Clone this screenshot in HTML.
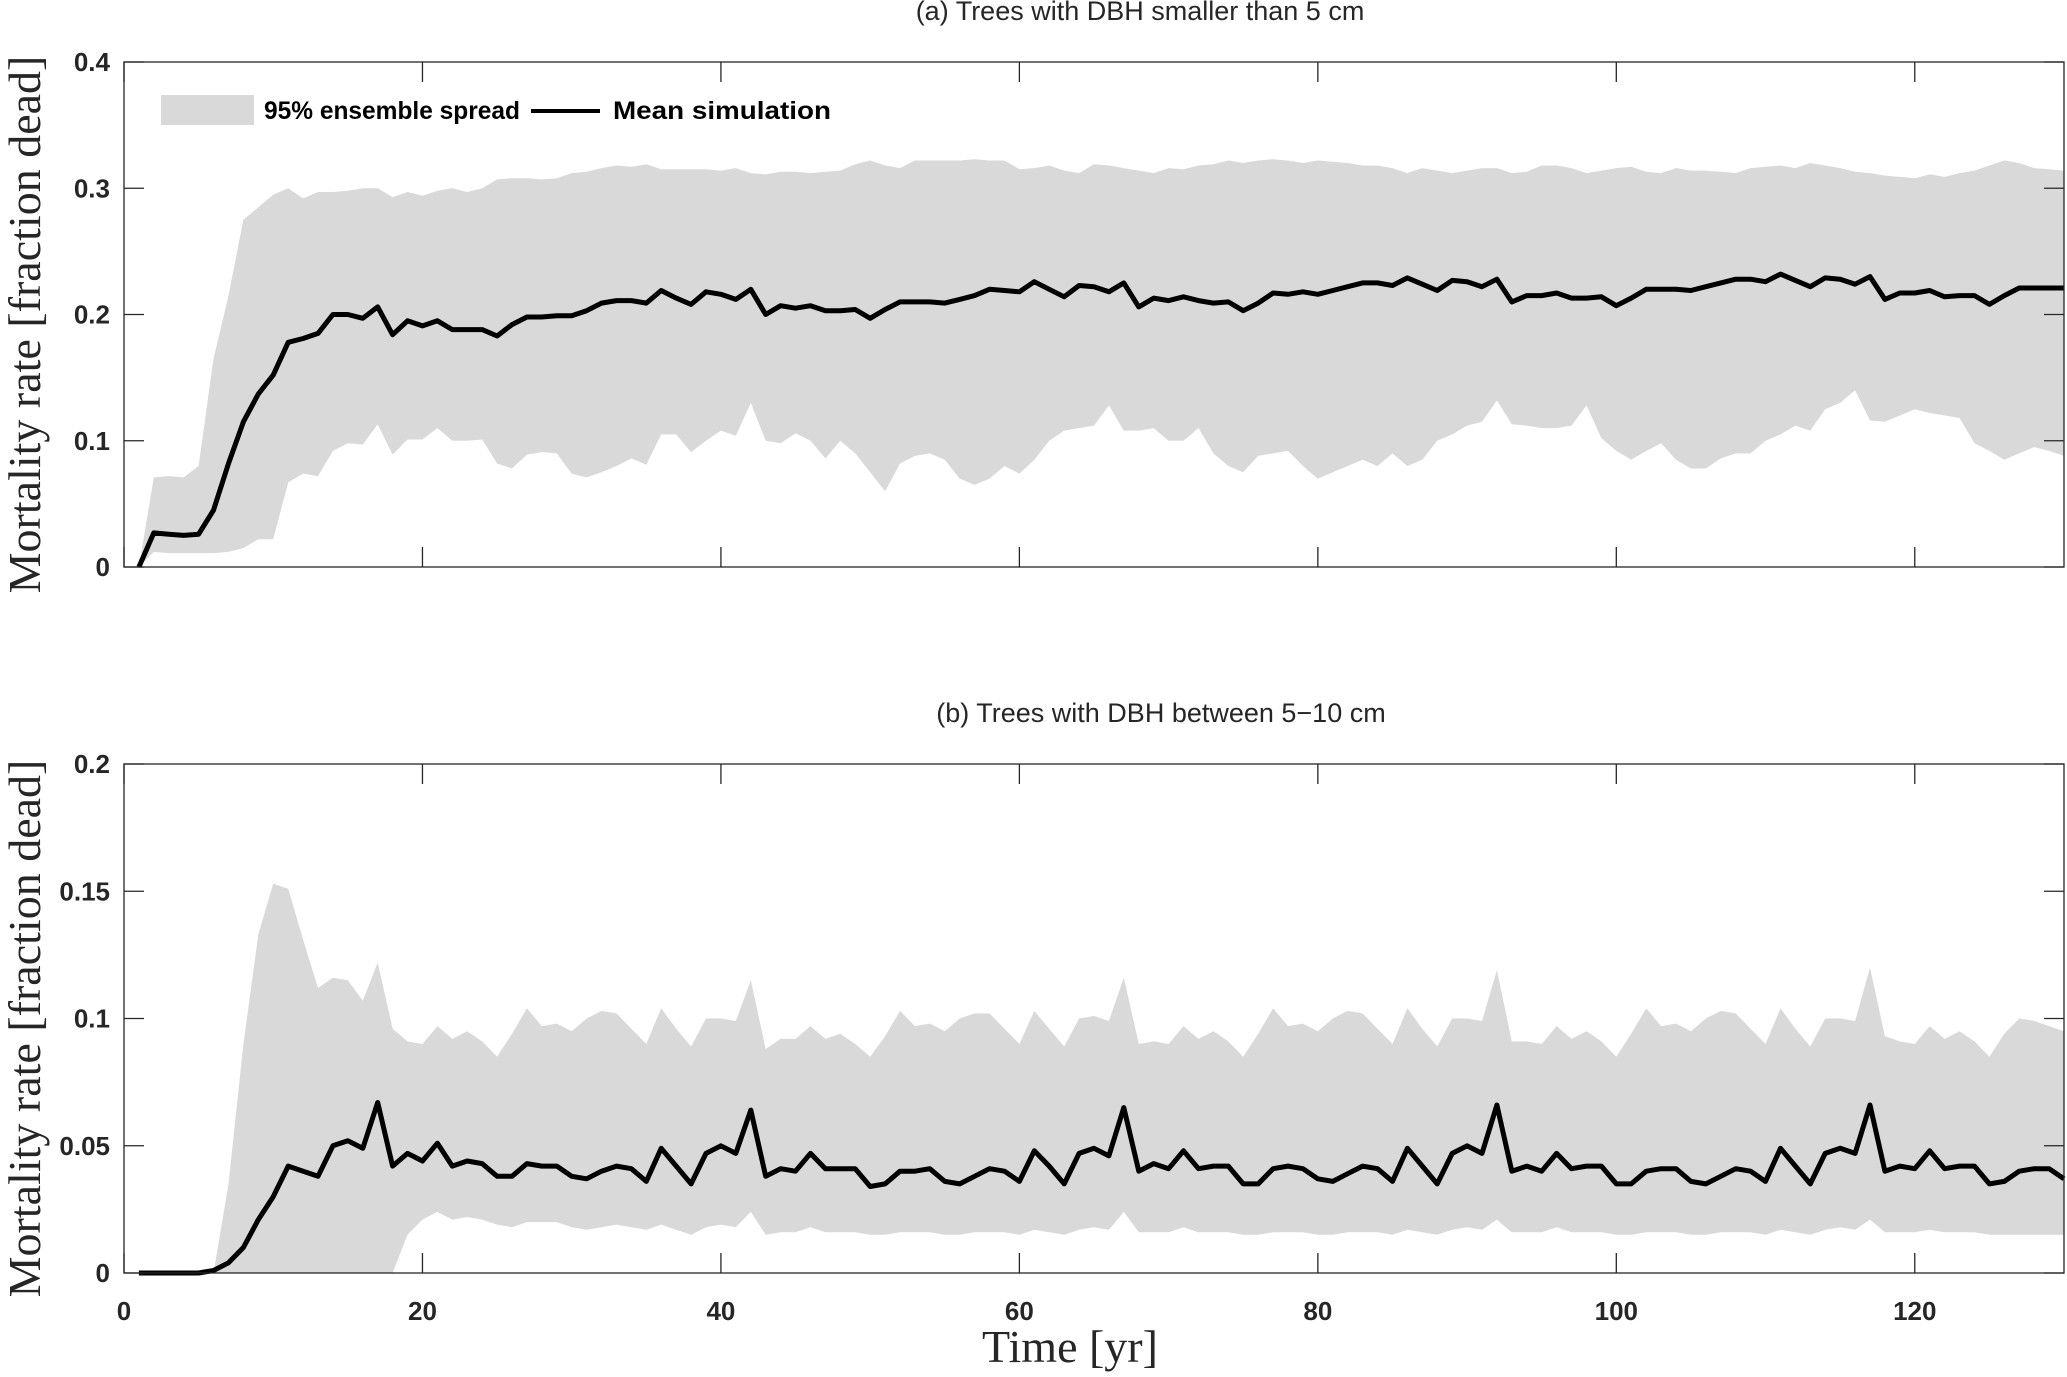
<!DOCTYPE html>
<html><head><meta charset="utf-8"><style>
body{margin:0;background:#fff}
svg text{fill:#262626}
.tk{font:bold 26px "Liberation Sans",sans-serif}
.ttl{font:27px "Liberation Sans",sans-serif}
.yl{font:46px "Liberation Serif",serif}
.lg{font:bold 25px "Liberation Sans",sans-serif;fill:#000}
</style></head><body>
<svg id="chart" width="2067" height="1372" viewBox="0 0 2067 1372" xmlns="http://www.w3.org/2000/svg">
<g id="pa"></g>
<g id="pb"></g>
</svg>
<script>
const aMean=[0,.027,.026,.025,.026,.045,.082,.115,.137,.152,.178,.181,.185,.2,.2,.197,.206,.184,.195,.191,.195,.188,.188,.188,.183,.192,.198,.198,.199,.199,.203,.209,.211,.211,.209,.219,.213,.208,.218,.216,.212,.22,.2,.207,.205,.207,.203,.203,.204,.197,.204,.21,.21,.21,.209,.212,.215,.22,.219,.218,.226,.22,.214,.223,.222,.218,.225,.206,.213,.211,.214,.211,.209,.21,.203,.209,.217,.216,.218,.216,.219,.222,.225,.225,.223,.229,.224,.219,.227,.226,.222,.228,.21,.215,.215,.217,.213,.213,.214,.207,.213,.22,.22,.22,.219,.222,.225,.228,.228,.226,.232,.227,.222,.229,.228,.224,.23,.212,.217,.217,.219,.214,.215,.215,.208,.215,.221,.221,.221,.221];
const aUpper=[0,.071,.072,.071,.08,.165,.215,.275,.285,.295,.3,.292,.297,.297,.298,.3,.3,.293,.297,.294,.298,.3,.297,.3,.307,.308,.308,.307,.308,.312,.313,.316,.318,.317,.319,.315,.315,.315,.315,.314,.316,.312,.311,.313,.313,.312,.313,.314,.319,.322,.318,.316,.322,.322,.322,.322,.323,.322,.322,.315,.316,.318,.314,.312,.319,.318,.316,.314,.312,.316,.315,.318,.319,.322,.320,.322,.323,.322,.320,.322,.321,.320,.318,.318,.316,.312,.316,.314,.312,.314,.316,.316,.312,.313,.318,.318,.316,.312,.314,.316,.317,.313,.312,.316,.314,.314,.313,.312,.316,.317,.318,.316,.320,.318,.316,.313,.312,.310,.309,.308,.311,.309,.312,.314,.318,.322,.320,.316,.315,.314];
const aLower=[0,.012,.011,.011,.011,.011,.012,.015,.022,.022,.067,.074,.072,.092,.098,.097,.113,.089,.101,.101,.11,.1,.1,.101,.082,.078,.089,.091,.09,.074,.071,.075,.08,.086,.081,.105,.105,.091,.1,.108,.104,.13,.1,.098,.106,.1,.086,.1,.09,.075,.06,.082,.088,.09,.085,.07,.065,.07,.08,.074,.085,.1,.108,.11,.112,.128,.108,.108,.11,.1,.1,.11,.09,.08,.075,.088,.09,.092,.08,.07,.075,.08,.085,.08,.09,.08,.085,.1,.105,.112,.115,.132,.113,.112,.11,.11,.112,.128,.102,.092,.085,.092,.098,.085,.078,.078,.086,.09,.09,.1,.105,.112,.108,.125,.13,.14,.116,.115,.12,.125,.122,.12,.118,.098,.092,.085,.09,.095,.092,.088];
const bMean=[0,0,0,0,0,.001,.004,.01,.021,.03,.042,.04,.038,.05,.052,.049,.067,
.042,.047,.044,.051,.042,.044,.043,.038,.038,.043,.042,.042,.038,.037,.040,.042,.041,.036,.049,.042,.035,.047,.050,.047,.064,
.038,.041,.040,.047,.041,.041,.041,.034,.035,.040,.040,.041,.036,.035,.038,.041,.040,.036,.048,.042,.035,.047,.049,.046,.065,
.040,.043,.041,.048,.041,.042,.042,.035,.035,.041,.042,.041,.037,.036,.039,.042,.041,.036,.049,.042,.035,.047,.050,.047,.066,
.040,.042,.040,.047,.041,.042,.042,.035,.035,.040,.041,.041,.036,.035,.038,.041,.040,.036,.049,.042,.035,.047,.049,.047,.066,
.040,.042,.041,.048,.041,.042,.042,.035,.036,.040,.041,.041,.037];
const bUpper=[0,0,0,0,0,0,.035,.09,.133,.153,.151,.131,.112,.116,.115,.107,.122,
.096,.091,.090,.097,.092,.095,.091,.085,.094,.104,.097,.098,.095,.100,.103,.102,.096,.090,.104,.096,.089,.100,.100,.099,.115,
.088,.092,.092,.097,.092,.094,.090,.085,.093,.103,.097,.098,.095,.100,.102,.102,.096,.090,.103,.096,.089,.100,.101,.099,.116,
.090,.091,.090,.097,.092,.095,.091,.085,.094,.104,.097,.098,.095,.100,.103,.102,.096,.090,.104,.096,.089,.100,.100,.099,.119,
.091,.091,.090,.097,.092,.095,.091,.085,.094,.104,.097,.098,.095,.100,.103,.102,.096,.090,.104,.096,.089,.100,.100,.099,.120,
.093,.091,.090,.097,.092,.095,.091,.085,.094,.100,.099,.097,.095];
const bLower=[0,0,0,0,0,0,0,0,0,0,0,0,0,0,0,0,0,
0,.015,.021,.024,.021,.022,.021,.019,.018,.020,.020,.020,.018,.017,.018,.019,.018,.017,.019,.017,.015,.018,.019,.018,.024,
.015,.016,.016,.018,.016,.016,.016,.015,.015,.016,.016,.016,.015,.015,.016,.016,.016,.015,.017,.016,.015,.017,.018,.017,.024,
.016,.016,.016,.018,.016,.016,.016,.015,.015,.016,.016,.016,.015,.015,.016,.016,.016,.015,.017,.016,.015,.017,.018,.017,.021,
.016,.016,.016,.018,.016,.016,.016,.015,.015,.016,.016,.016,.015,.015,.016,.016,.016,.015,.017,.016,.015,.017,.018,.017,.021,
.016,.016,.016,.017,.016,.016,.016,.015,.015,.015,.015,.015,.015];
const xTicks=[0,20,40,60,80,100,120];
const aYTicks=[0,0.1,0.2,0.3,0.4];
const aYLabels=["0","0.1","0.2","0.3","0.4"];
const bYTicks=[0,0.05,0.1,0.15,0.2];
const bYLabels=["0","0.05","0.1","0.15","0.2"];

const NS="http://www.w3.org/2000/svg";
const L=124,R=2064,XMAX=130;
function X(v){return L+(R-L)*v/XMAX;}
function mk(p,t,a){const e=document.createElementNS(NS,t);for(const k in a)e.setAttribute(k,a[k]);p.appendChild(e);return e;}
function panel(g,top,bot,ymax,yt,yl,lo,up,mean,title,titleX,showX,pfx){
  const Y=v=>bot-(bot-top)*v/ymax;
  const n=Math.min(lo.length,up.length);
  let d="";
  for(let i=0;i<n;i++)d+=(i?"L":"M")+X(i+1).toFixed(1)+","+Y(up[i]).toFixed(1);
  for(let i=n-1;i>=0;i--)d+="L"+X(i+1).toFixed(1)+","+Y(lo[i]).toFixed(1);
  const band=mk(g,"path",{d:d+"Z",fill:"#d9d9d9"});
  
  
  let m="";
  for(let i=0;i<mean.length;i++)m+=(i?"L":"M")+X(i+1).toFixed(1)+","+Y(mean[i]).toFixed(1);
  const ln=mk(g,"path",{d:m,fill:"none",stroke:"#000","stroke-width":5,"stroke-linejoin":"round"});
  
  
  const box=mk(g,"rect",{x:L,y:top,width:R-L,height:bot-top,fill:"none",stroke:"#262626","stroke-width":1.3});
  
  
  xTicks.forEach(t=>{
    mk(g,"line",{x1:X(t),x2:X(t),y1:bot,y2:bot-20,stroke:"#262626","stroke-width":1.3});
    mk(g,"line",{x1:X(t),x2:X(t),y1:top,y2:top+20,stroke:"#262626","stroke-width":1.3});
    if(showX){const tx=mk(g,"text",{x:X(t),y:bot+47,"text-anchor":"middle",class:"tk"});tx.textContent=t;
      
      }
  });
  yt.forEach((t,i)=>{
    mk(g,"line",{x1:L,x2:L+20,y1:Y(t),y2:Y(t),stroke:"#262626","stroke-width":1.3});
    mk(g,"line",{x1:R,x2:R-20,y1:Y(t),y2:Y(t),stroke:"#262626","stroke-width":1.3});
    const tx=mk(g,"text",{x:L-14,y:Y(t)+9,"text-anchor":"end",class:"tk"});tx.textContent=yl[i];
    
    
  });
  const tt=mk(g,"text",{x:titleX,y:top-42,"text-anchor":"middle",class:"ttl"});tt.textContent=title;
  
  
  const cy=(top+bot)/2+10;
  const ya=mk(g,"text",{x:40,y:cy,"text-anchor":"middle",class:"yl",transform:"rotate(-90 40 "+cy+")"});
  ya.textContent="Mortality rate  [fraction dead]";
  
  
}
const pa=document.getElementById("pa"),pb=document.getElementById("pb");
panel(pa,62,567,0.4,aYTicks,aYLabels,aLower,aUpper,aMean,"(a)  Trees with DBH smaller than 5 cm",1140,false,"a-");
panel(pb,764,1273,0.2,bYTicks,bYLabels,bLower,bUpper,bMean,"(b) Trees with DBH between 5\u221210 cm",1161,true,"b-");
const lg=mk(pa,"g",{});


const sw=mk(lg,"rect",{x:161,y:95,width:93,height:30,fill:"#d9d9d9"});


const t1=mk(lg,"text",{x:264,y:119,class:"lg",textLength:256,lengthAdjust:"spacingAndGlyphs"});t1.textContent="95% ensemble spread";


const l2=mk(lg,"line",{x1:531,x2:600,y1:111,y2:111,stroke:"#000","stroke-width":4});


const t2=mk(lg,"text",{x:613,y:119,class:"lg",textLength:218,lengthAdjust:"spacingAndGlyphs"});t2.textContent="Mean simulation";


const xt=mk(pb,"text",{x:1070,y:1362,"text-anchor":"middle",class:"yl"});xt.textContent="Time [yr]";


</script>
</body></html>
